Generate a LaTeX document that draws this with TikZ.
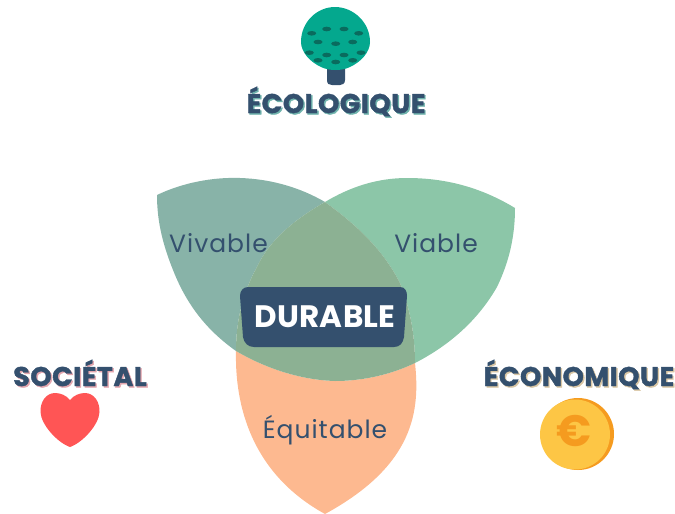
\documentclass[tikz,border=0pt]{standalone}
\usepackage{fontspec}
\setmainfont{Poppins}
\newfontfamily\labelfont[LetterSpace=4]{Poppins}
\newfontfamily\titlefont[LetterSpace=2,FakeBold=1.5]{Poppins Bold}
\newfontfamily\boxfont[LetterSpace=1]{Poppins Bold}
\definecolor{ink}{HTML}{34506E}
\definecolor{vivablec}{HTML}{88B3A8}
\definecolor{viablec}{HTML}{8CC6A8}
\definecolor{equitc}{HTML}{FDB990}
\definecolor{centerc}{HTML}{8CB193}
\definecolor{treec}{HTML}{04A88E}
\definecolor{spotc}{HTML}{0A6B5E}
\definecolor{heartc}{HTML}{FF5555}
\definecolor{coinc}{HTML}{FDC645}
\definecolor{rimc}{HTML}{F59B1F}
\definecolor{shadowteal}{HTML}{6FB3AC}
\definecolor{shadowpink}{HTML}{E3A6AE}
\definecolor{shadowtan}{HTML}{D9C6A4}
\newcommand{\shadowed}[2]{\rlap{\kern1.4pt\raisebox{-1.4pt}{\color{#1}#2}}#2}
\tikzset{
  petal/.style={draw=none},
  petaltext/.style={text=ink,font=\labelfont\fontsize{25}{25}\selectfont,anchor=base,inner sep=0pt},
  title/.style={text=ink,font=\titlefont\fontsize{27}{27}\selectfont,anchor=base,inner sep=0pt},
  spot/.style={fill=spotc,draw=none}
}
\begin{document}
\begin{tikzpicture}[x=1pt,y=-1pt]
\useasboundingbox (0,0) rectangle (675,514);
% regions
\fill[vivablec] (157,195) .. controls (182,183) and (212,177) .. (240,178) .. controls (272,179) and (301,188) .. (325,202)
  .. controls (290,222) and (268,243) .. (257,267) .. controls (243,292) and (236,320) .. (236,351)
  .. controls (205,329) and (186,303) .. (173,270) .. controls (163,245) and (157,222) .. (157,195) -- cycle;
\fill[viablec] (515,208) .. controls (482,188) and (447,178) .. (407,178) .. controls (377,178) and (350,187) .. (325,202)
  .. controls (358,226) and (383,250) .. (400,283) .. controls (410,308) and (415,335) .. (415,363)
  .. controls (450,345) and (478,320) .. (497,287) .. controls (509,262) and (515,237) .. (515,208) -- cycle;
\fill[equitc] (236,351) .. controls (235,395) and (245,470) .. (325,514)
  .. controls (415,465) and (420,410) .. (415,363)
  .. controls (390,375) and (362,381) .. (335,381) .. controls (300,380) and (265,368) .. (236,351) -- cycle;
\fill[centerc] (325,202) .. controls (358,226) and (383,250) .. (400,283) .. controls (410,308) and (415,335) .. (415,363)
  .. controls (390,375) and (362,381) .. (335,381) .. controls (300,380) and (265,368) .. (236,351)
  .. controls (236,320) and (243,292) .. (257,267) .. controls (268,243) and (290,222) .. (325,202) -- cycle;
% central box
\fill[ink] (248,287) -- (400,287) .. controls (405,287) and (407,291) .. (407,296) -- (404,337)
  .. controls (403,343) and (400,347) .. (394,347) -- (254,347) .. controls (248,347) and (244,343) .. (243,337)
  -- (240,296) .. controls (240,291) and (243,287) .. (248,287) -- cycle;
\node[anchor=base,text=white,font=\boxfont\fontsize{31}{31}\selectfont,inner sep=0pt] (durable) at (325,327) {DURABLE};
\node[petaltext] (vivable) at (218.5,252) {Vivable};
\node[petaltext] (viable) at (436,252) {Viable};
\node[petaltext] (equitable) at (325,438) {Équitable};
% tree
\fill[ink] (327,66) -- (345,66) -- (345,80) .. controls (345,84) and (342,85) .. (340,85) -- (332,85) .. controls (329,85) and (327,84) .. (327,80) -- cycle;
\fill[treec] (335,7) .. controls (353,7) and (370,22) .. (370,42) .. controls (370,52) and (361,62) .. (350,67)
  .. controls (342,71) and (329,71) .. (321,67) .. controls (310,62) and (301,52) .. (301,42) .. controls (301,22) and (317,7) .. (335,7) -- cycle;
\foreach \sx/\sy in {311.7/33.3,326.7/29,344/29,358.7/33.3,318/42,335.7/43.7,352.7/42,309.3/52.7,326.7/55,344/55,361/52.7,318/60.3,335.7/62,352.7/60.3}
  \fill[spot] (\sx,\sy) ellipse [x radius=4.5,y radius=2.3];
\node[title] (eco) at (336,113) {\shadowed{shadowteal}{ÉCOLOGIQUE}};
% heart
\fill[heartc] (70,400) .. controls (74,395) and (80,393) .. (85,393) .. controls (94,393) and (100,402) .. (99.5,412)
  .. controls (99,425) and (82,443) .. (70,447) .. controls (58,443) and (41,425) .. (40.5,412)
  .. controls (40,402) and (46,393) .. (55,393) .. controls (60,393) and (66,395) .. (70,400) -- cycle;
\node[title] (soc) at (80,386) {\shadowed{shadowpink}{SOCIÉTAL}};
% coin
\fill[rimc] (578,434) circle [radius=36];
\fill[coinc] (575,434.5) circle [radius=35];
\node[text=rimc,font=\fontspec{Poppins Bold}\fontsize{44}{44}\selectfont,inner sep=0pt] (euro) at (574,431) {€};
\node[title] (econ) at (579,386) {\shadowed{shadowtan}{ÉCONOMIQUE}};
\end{tikzpicture}
\end{document}
